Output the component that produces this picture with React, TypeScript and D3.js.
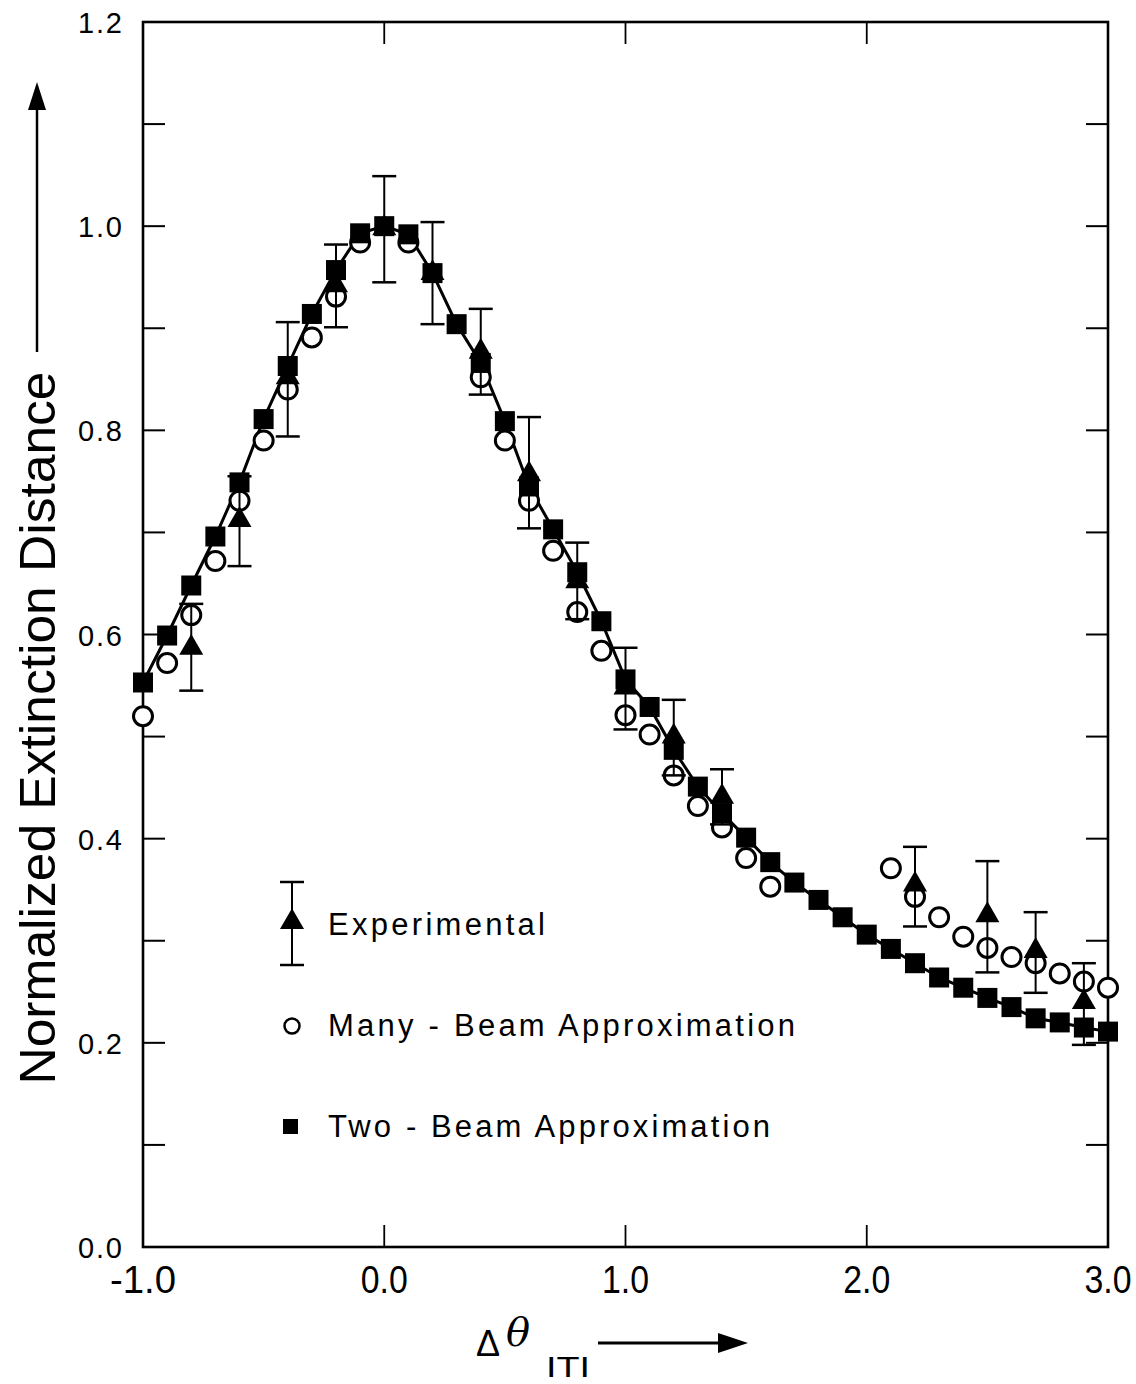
import React from "react";
import * as d3 from "d3";

const twoBeamX = [-1.0,-0.9,-0.8,-0.7,-0.6,-0.5,-0.4,-0.3,-0.2,-0.1,0.0,0.1,0.2,0.3,0.4,0.5,0.6,0.7,0.8,0.9,1.0,1.1,1.2,1.3,1.4,1.5,1.6,1.7,1.8,1.9,2.0,2.1,2.2,2.3,2.4,2.5,2.6,2.7,2.8,2.9,3.0];
const twoBeamY = [0.553,0.599,0.648,0.696,0.749,0.811,0.863,0.914,0.957,0.993,1.000,0.992,0.954,0.904,0.866,0.809,0.745,0.703,0.661,0.613,0.556,0.529,0.487,0.451,0.425,0.401,0.377,0.357,0.340,0.323,0.306,0.292,0.278,0.264,0.254,0.244,0.235,0.224,0.220,0.215,0.211];

const manyBeamX = [-1.0,-0.9,-0.8,-0.7,-0.6,-0.5,-0.4,-0.3,-0.2,-0.1,0.1,0.4,0.5,0.6,0.7,0.8,0.9,1.0,1.1,1.2,1.3,1.4,1.5,1.6,2.1,2.2,2.3,2.4,2.5,2.6,2.7,2.8,2.9,3.0];
const manyBeamY = [0.520,0.572,0.619,0.672,0.731,0.790,0.840,0.891,0.931,0.984,0.984,0.852,0.790,0.731,0.682,0.622,0.584,0.521,0.502,0.462,0.432,0.411,0.381,0.353,0.371,0.343,0.323,0.304,0.293,0.284,0.278,0.268,0.260,0.254];

const expX = [-0.8,-0.6,-0.4,-0.2,0.0,0.2,0.4,0.6,0.8,1.0,1.2,1.4,2.2,2.5,2.7,2.9];
const expY = [0.587,0.712,0.852,0.942,0.998,0.954,0.877,0.757,0.652,0.548,0.500,0.441,0.355,0.325,0.290,0.240];
const expLo = [0.545,0.667,0.794,0.901,0.945,0.904,0.835,0.704,0.615,0.507,0.462,0.414,0.314,0.269,0.249,0.198];
const expHi = [0.630,0.755,0.906,0.982,1.049,1.004,0.919,0.813,0.690,0.587,0.536,0.468,0.392,0.378,0.328,0.278];

const yTickValues = [0.0,0.2,0.4,0.6,0.8,1.0,1.2];
const yTickLabels = ["0.0","0.2","0.4","0.6","0.8","1.0","1.2"];
const yMinorTicks = [0.1,0.2,0.3,0.4,0.5,0.6,0.7,0.8,0.9,1.0,1.1];
const xTickValues = [-1.0,0.0,1.0,2.0,3.0];
const xTickLabels = ["-1.0","0.0","1.0","2.0","3.0"];
const xInnerTicks = [0.0,1.0,2.0];

const legendLabels = ["Experimental","Many - Beam Approximation","Two - Beam Approximation"];
const yTitle = "Normalized Extinction Distance";

const FONT = "'Liberation Sans', Arial, Helvetica, sans-serif";

export default function App() {
  const x = d3.scaleLinear().domain([-1, 3]).range([143, 1108]);
  const y = d3.scaleLinear().domain([0, 1.2]).range([1247, 22]);
  const line = d3.line<number>().x((_, i) => x(twoBeamX[i])).y((d) => y(d));
  const tri = d3.symbol().type(d3.symbolTriangle).size(250)();
  const tl = 22;
  const capW = 12;
  const sq = 20;

  return (
    <svg width={1136} height={1384} style={{ position: "absolute", left: 0, top: 0, background: "#fff" }}>
      <rect width={1136} height={1384} fill="#fff" />
      <rect x={x(-1)} y={y(1.2)} width={x(3) - x(-1)} height={y(0) - y(1.2)} fill="none" stroke="#000" strokeWidth={2.6} />
      {yMinorTicks.map((v, i) => (
        <g key={"yt" + i} stroke="#000" strokeWidth={2}>
          <line x1={x(-1)} x2={x(-1) + tl} y1={y(v)} y2={y(v)} />
          <line x1={x(3)} x2={x(3) - tl} y1={y(v)} y2={y(v)} />
        </g>
      ))}
      {xInnerTicks.map((v, i) => (
        <g key={"xt" + i} stroke="#000" strokeWidth={1.8}>
          <line x1={x(v)} x2={x(v)} y1={y(0)} y2={y(0) - tl} />
          <line x1={x(v)} x2={x(v)} y1={y(1.2)} y2={y(1.2) + tl} />
        </g>
      ))}
      {yTickValues.map((v, i) => (
        <text key={"yl" + i} x={122} y={y(v) + 11} textAnchor="end" fontFamily={FONT} fontSize={29}
          textLength={44} lengthAdjust="spacing" fill="#000">{yTickLabels[i]}</text>
      ))}
      {xTickValues.map((v, i) => (
        <text key={"xl" + i} x={x(v)} y={1293} textAnchor="middle" fontFamily={FONT} fontSize={38}
          textLength={xTickLabels[i].length === 4 ? 66 : 47} lengthAdjust="spacingAndGlyphs" fill="#000">{xTickLabels[i]}</text>
      ))}
      <path d={line(twoBeamY) || ""} fill="none" stroke="#000" strokeWidth={3} />
      {manyBeamX.map((v, i) => (
        <circle key={"c" + i} cx={x(v)} cy={y(manyBeamY[i])} r={9.5} fill="#fff" stroke="#000" strokeWidth={3} />
      ))}
      {expX.map((v, i) => (
        <g key={"e" + i} stroke="#000" strokeWidth={2}>
          <line x1={x(v)} x2={x(v)} y1={y(expLo[i])} y2={y(expHi[i])} />
          <line x1={x(v) - capW} x2={x(v) + capW} y1={y(expLo[i])} y2={y(expLo[i])} strokeWidth={2.5} />
          <line x1={x(v) - capW} x2={x(v) + capW} y1={y(expHi[i])} y2={y(expHi[i])} strokeWidth={2.5} />
        </g>
      ))}
      {twoBeamX.map((v, i) => (
        <rect key={"s" + i} x={x(v) - sq / 2} y={y(twoBeamY[i]) - sq / 2} width={sq} height={sq} fill="#000" />
      ))}
      {expX.map((v, i) => (
        <path key={"t" + i} d={tri || ""} transform={`translate(${x(v)},${y(expY[i])})`} fill="#000" />
      ))}
      <g stroke="#000" strokeWidth={2}>
        <line x1={292} x2={292} y1={882} y2={965} />
        <line x1={280} x2={304} y1={882} y2={882} strokeWidth={2.5} />
        <line x1={280} x2={304} y1={965} y2={965} strokeWidth={2.5} />
      </g>
      <path d={tri || ""} transform="translate(292,922)" fill="#000" />
      <circle cx={292} cy={1026} r={7.5} fill="#fff" stroke="#000" strokeWidth={2.5} />
      <rect x={283} y={1119} width={15} height={15} fill="#000" />
      {legendLabels.map((t, i) => (
        <text key={"lg" + i} x={328} y={935 + i * 101} fontFamily={FONT} fontSize={31} fill="#000"
          textLength={[217, 467, 442][i]} lengthAdjust="spacing">{t}</text>
      ))}
      <text transform="translate(55,728) rotate(-90)" textAnchor="middle" fontFamily={FONT} fontSize={50}
        textLength={713} lengthAdjust="spacingAndGlyphs" fill="#000">{yTitle}</text>
      <line x1={37} x2={37} y1={352} y2={105} stroke="#000" strokeWidth={2.5} />
      <polygon points="28,110 37,82 46,110" fill="#000" />
      <text x={476} y={1356} fontFamily={FONT} fontSize={36} fill="#000">{"\u0394"}</text>
      <text x={506} y={1346} fontFamily="'DejaVu Serif', serif" fontStyle="italic" fontSize={40} fill="#000">{"\u03B8"}</text>
      <text x={546} y={1377} fontFamily={FONT} fontSize={30} fill="#000" textLength={44} lengthAdjust="spacingAndGlyphs">ITI</text>
      <line x1={598} x2={725} y1={1343} y2={1343} stroke="#000" strokeWidth={3} />
      <polygon points="718,1333 748,1343 718,1353" fill="#000" />
    </svg>
  );
}
